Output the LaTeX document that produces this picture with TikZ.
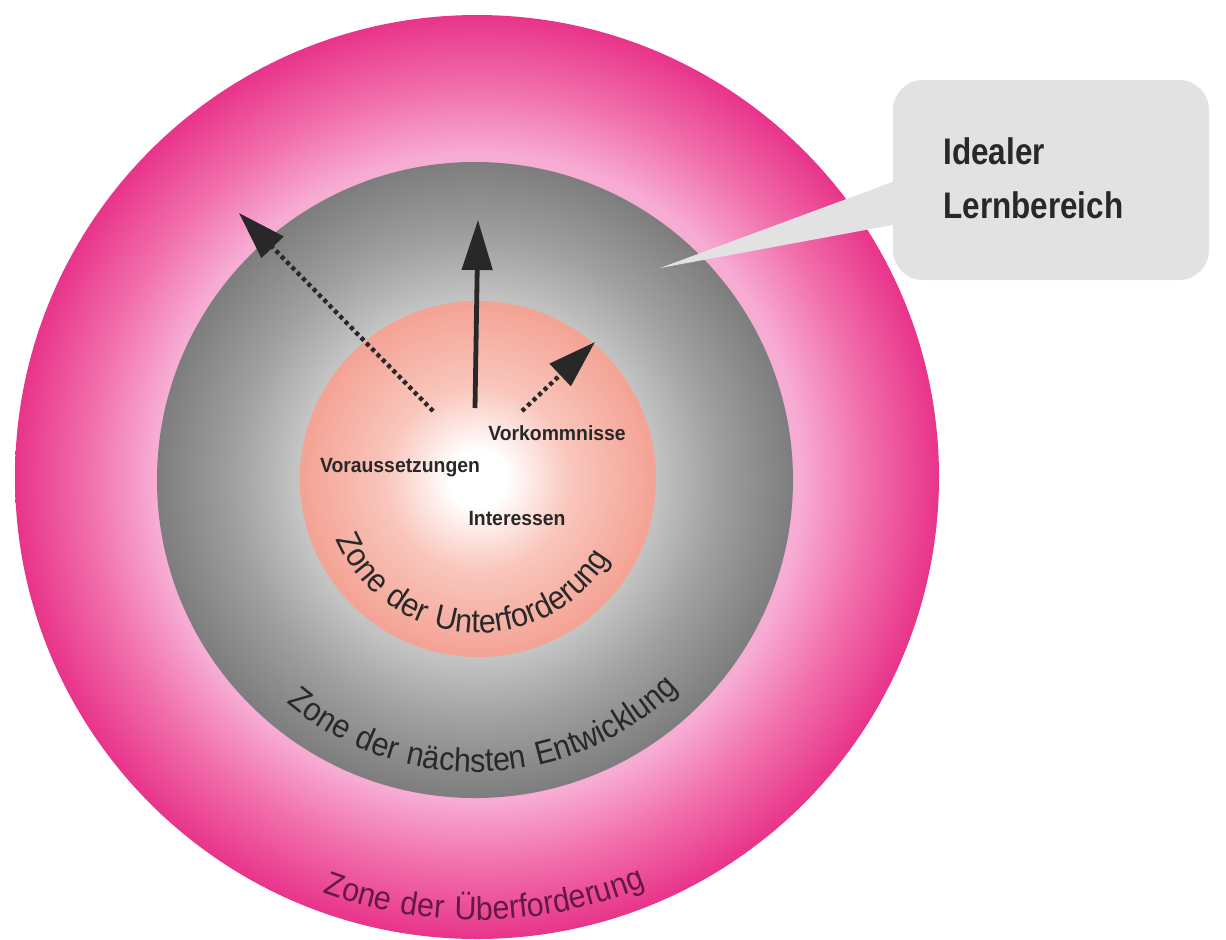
\documentclass[tikz,border=0pt]{standalone}
\usepackage{fontspec}
\setmainfont{Liberation Sans}
\newfontfamily\labfont[FakeStretch=0.94]{Liberation Sans}
\newfontfamily\calfont[FakeStretch=0.85]{Liberation Sans}
\newfontfamily\arcfont[LetterSpace=7,FakeStretch=0.92]{Liberation Sans}
\usetikzlibrary{arrows.meta,decorations.text}
\definecolor{pinkD}{RGB}{232,52,138}
\definecolor{pinkM}{RGB}{241,112,172}
\definecolor{pinkL}{RGB}{247,172,212}
\definecolor{grayD}{RGB}{125,125,125}
\definecolor{grayM}{RGB}{160,160,160}
\definecolor{grayL}{RGB}{196,196,196}
\definecolor{salmonL}{RGB}{249,198,188}
\definecolor{salmon}{RGB}{244,162,148}
\definecolor{boxgray}{RGB}{226,226,226}
\definecolor{ink}{RGB}{40,40,40}
\definecolor{outink}{RGB}{100,25,65}
\pgfdeclareradialshading{pinkring}{\pgfpoint{0bp}{0bp}}{color(0bp)=(pinkL); color(17.5bp)=(pinkL); color(21bp)=(pinkM); color(25bp)=(pinkD); color(50bp)=(pinkD)}
\pgfdeclareradialshading{grayring}{\pgfpoint{0bp}{0bp}}{color(0bp)=(grayL); color(14bp)=(grayL); color(19bp)=(grayM); color(25bp)=(grayD); color(50bp)=(grayD)}
\pgfdeclareradialshading{innerdisc}{\pgfpoint{0bp}{0bp}}{color(0bp)=(white); color(4bp)=(white); color(13bp)=(salmonL); color(25bp)=(salmon); color(50bp)=(salmon)}
\tikzset{
  zone/.style={circle, inner sep=0pt, outer sep=0pt},
  lab/.style={font=\labfont\bfseries\fontsize{10.3}{12}\selectfont, text=ink, inner sep=0pt},
  callouttext/.style={font=\calfont\bfseries\fontsize{18.5}{22}\selectfont, text=ink, inner sep=0pt, anchor=base west},
  solidarrow/.style={draw=ink, line width=2.4pt, -{Triangle[length=25pt,width=15pt]}},
  dotarrow/.style={draw=ink, line width=2.2pt, dash pattern=on 2pt off 1.8pt, -{Triangle[length=24pt,width=15pt]}}
}
\begin{document}
\begin{tikzpicture}[x=0.5pt,y=0.5pt]
\useasboundingbox (0,0) rectangle (1226,-939);
\fill[white] (0,0) rectangle (1226,-939);
% zones
\node (outer) [zone, minimum size=462pt, shading=pinkring] at (477,-477) {};
\node (mid) [zone, minimum size=318pt, shading=grayring] at (475,-480) {};
\node (inner) [zone, minimum size=178pt, shading=innerdisc] at (478,-479) {};
% arc labels
\path[decorate, decoration={text along path, text align=center,
  text={|\arcfont\fontsize{16.5}{19}\selectfont\color{ink}|Zone der Unterforderung}}]
  (478,-479) ++(186:154) arc[start angle=186, end angle=346, radius=154];
\path[decorate, decoration={text along path, text align=center,
  text={|\arcfont\fontsize{16.5}{19}\selectfont\color{ink}|Zone der nächsten Entwicklung}}]
  (475,-481) ++(212:291) arc[start angle=212, end angle=332, radius=291];
\path[decorate, decoration={text along path, text align=center,
  text={|\arcfont\fontsize{16.5}{19}\selectfont\color{outink}|Zone der Überforderung}}]
  (477,-477) ++(231:443) arc[start angle=231, end angle=311, radius=443];
% inner labels
\node[lab] (vor) at (400,-468) {Voraussetzungen};
\node[lab] (vork) at (557,-433) {Vorkommnisse};
\node[lab] (int) at (517,-518) {Interessen};
% arrows
\coordinate (a1s) at (433,-411);
\coordinate (a1e) at (239,-213);
\coordinate (a2s) at (475,-408);
\coordinate (a2e) at (478,-220);
\coordinate (a3s) at (522,-411);
\coordinate (a3e) at (595,-342);
\draw[dotarrow] (a1s) -- (a1e);
\draw[solidarrow] (a2s) -- (a2e);
\draw[dotarrow] (a3s) -- (a3e);
% callout
\node (box) [fill=boxgray, rounded corners=15pt, minimum width=158pt, minimum height=100pt, inner sep=0pt] at (1051,-180) {};
\coordinate (ptip) at (660,-268);
\fill[boxgray] (ptip) -- ([xshift=8pt,yshift=2pt]box.west) -- ([xshift=8pt,yshift=-21pt]box.west) -- cycle;
\node[callouttext] (t1) at (943,-164) {Idealer};
\node[callouttext] (t2) at (943,-218) {Lernbereich};
\end{tikzpicture}
\end{document}
